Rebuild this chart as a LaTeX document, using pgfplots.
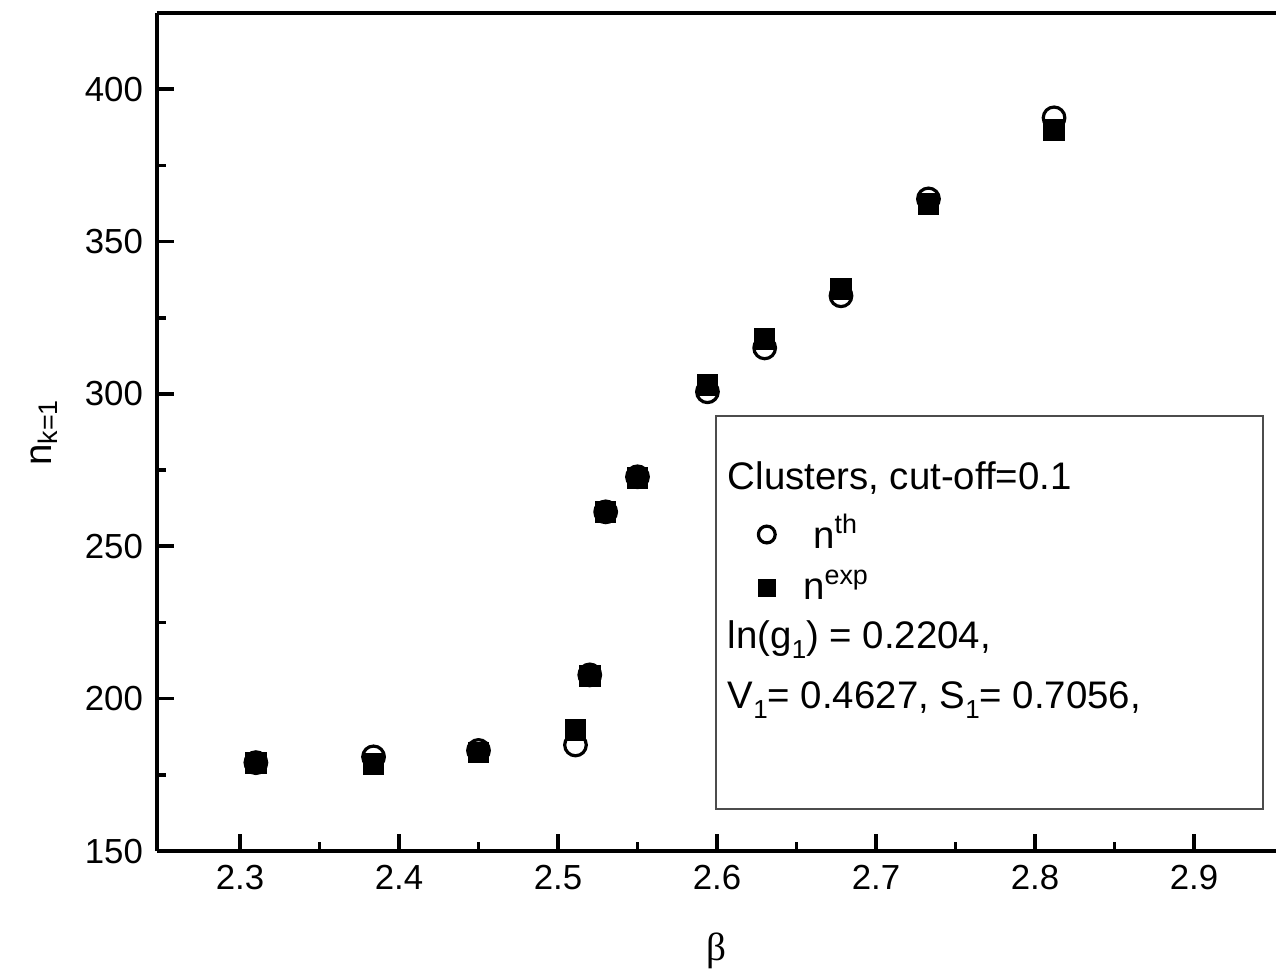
\documentclass[border=0pt]{standalone}
\usepackage{fontspec}
\setmainfont{Liberation Sans}
\newfontfamily\serif{Liberation Serif}
\usepackage{pgfplots}
\pgfplotsset{compat=1.18}
\usetikzlibrary{calc}
\newcommand\lowsub[1]{\raisebox{-2.6pt}{\fontsize{6.5}{7}\selectfont #1}}

\pgfplotstableread{
x      nth    nexp
2.310  179.0  178.9
2.384  180.9  178.6
2.450  183.0  182.3
2.511  184.8  189.7
2.520  207.8  207.5
2.530  261.3  261.3
2.550  272.8  272.5
2.594  300.7  303.0
2.630  315.1  318.1
2.678  332.2  334.5
2.733  364.0  362.4
2.812  390.6  386.7
}\clusters

\begin{document}
\begin{tikzpicture}
\begin{axis}[
  name=ax,
  scale only axis, width=279.75pt, height=209.5pt,
  xmin=2.2478, xmax=2.9516, ymin=150, ymax=425,
  axis lines=left, axis line style={line width=0.9pt, -},
  clip=false,
  tick align=inside,
  xtick={2.3,2.4,2.5,2.6,2.7,2.8,2.9},
  ytick={150,200,250,300,350,400},
  minor x tick num=1, minor y tick num=1,
  major tick length=4.2pt, minor tick length=2.2pt,
  every tick/.style={line width=0.9pt, black},
  tick label style={font=\fontsize{8.7}{10}\selectfont},
  /pgf/number format/assume math mode=true,
  xlabel={\serif β},
  xlabel style={font=\fontsize{9.8}{11}\selectfont, yshift=-4pt},
  ylabel={n\textsubscript{k=1}},
  ylabel style={font=\fontsize{9.6}{11}\selectfont},
  legend cell align=left,
  legend image post style={mark size=2.1pt},
  legend style={at={(axis cs:2.618,245.5)}, anchor=west, draw=none, fill=none,
                font=\fontsize{9.6}{11}\selectfont, row sep=0pt},
]
\addplot[only marks, mark=o, mark size=2.7pt, mark options={line width=0.8pt, black}]
  table[x=x, y=nth] {\clusters};
\addlegendentry{\hspace{7.5pt}n\textsuperscript{th}}
\addplot[only marks, mark=square*, mark size=2.5pt, mark options={black, fill=black}]
  table[x=x, y=nexp] {\clusters};
\addlegendentry{\hspace{5pt}n\textsuperscript{exp}}

\draw[line width=0.9pt] (rel axis cs:0,1) -- (rel axis cs:1,1);
\draw[black!70, line width=0.6pt] (axis cs:2.5994,163.8) rectangle (axis cs:2.9434,292.8);

\node[anchor=base west, inner sep=0pt, font=\fontsize{9.6}{11}\selectfont]
  at (axis cs:2.6063,268.5) {Clusters, cut-off=0.1};
\node[anchor=base west, inner sep=0pt, font=\fontsize{9.6}{11}\selectfont]
  at (axis cs:2.6063,216.6) {ln(g\lowsub{1}) = 0.2204,};
\node[anchor=base west, inner sep=0pt, font=\fontsize{9.6}{11}\selectfont]
  at (axis cs:2.6063,196.9) {V\lowsub{1}= 0.4627, S\lowsub{1}= 0.7056,};

\coordinate (O) at (rel axis cs:0,0);
\coordinate (T) at (rel axis cs:1,1);
\end{axis}
\pgfresetboundingbox
\path[use as bounding box] ($(O)+(-39.25pt,-29.75pt)$) rectangle ($(T)+(0pt,3.25pt)$);
\end{tikzpicture}
\end{document}
